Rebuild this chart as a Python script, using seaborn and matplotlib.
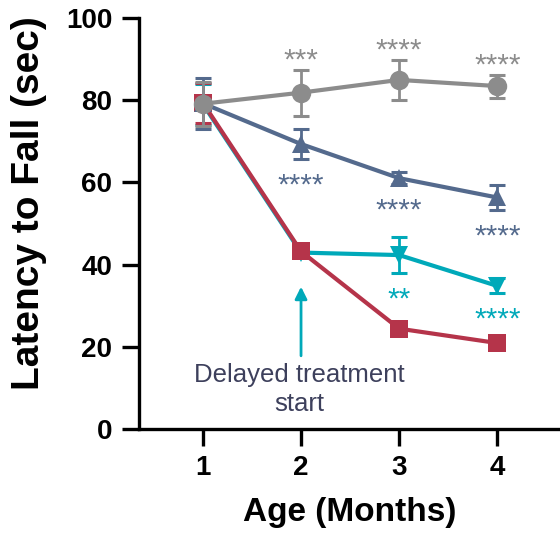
import numpy as np
import pandas as pd
import matplotlib
matplotlib.use("Agg")
import matplotlib.pyplot as plt
import seaborn as sns

months = [1, 2, 3, 4]
groups = ["Treated", "Early", "Delayed", "Untreated"]
colors = {"Treated": "#8c8c8c", "Early": "#546a8d", "Delayed": "#00a9b9", "Untreated": "#b5344a"}
markers = {"Treated": "o", "Early": "^", "Delayed": "v", "Untreated": "s"}

treated_mean = [79.1, 81.8, 84.9, 83.4]
treated_sem = [5.4, 5.6, 4.9, 2.8]
early_mean = [79.2, 69.3, 61.0, 56.3]
early_sem = [6.2, 3.6, 1.5, 3.1]
delayed_mean = [79.0, 42.9, 42.3, 34.8]
delayed_sem = [5.0, 0.8, 4.3, 1.8]
untreated_mean = [79.3, 43.2, 24.4, 20.9]
untreated_sem = [4.8, 0.8, 0.9, 0.8]

stars_treated = ["", "***", "****", "****"]
stars_early = ["", "****", "****", "****"]
stars_delayed = ["", "", "**", "****"]

means = {"Treated": treated_mean, "Early": early_mean,
         "Delayed": delayed_mean, "Untreated": untreated_mean}
sems = {"Treated": treated_sem, "Early": early_sem,
        "Delayed": delayed_sem, "Untreated": untreated_sem}

df = pd.DataFrame([(g, m, v) for g in groups for m, v in zip(months, means[g])],
                  columns=["group", "month", "latency"])

sns.set_style("ticks")
plt.rcParams["font.family"] = ["Liberation Sans", "DejaVu Sans"]
plt.rcParams["text.color"] = "black"
plt.rcParams["axes.labelcolor"] = "black"
plt.rcParams["xtick.color"] = "black"
plt.rcParams["ytick.color"] = "black"
plt.rcParams["axes.edgecolor"] = "black"

fig = plt.figure(figsize=(5.6, 5.4), dpi=100)
ax = fig.add_axes([0.248, 0.2056, 0.752, 0.7614])

# drawing order: bottom to top
order = ["Delayed", "Untreated", "Early", "Treated"]
msize = {"Treated": 14, "Early": 13, "Delayed": 13, "Untreated": 13}
for z, g in enumerate(order):
    sub = df[df.group == g]
    ax.errorbar(sub.month, sub.latency, yerr=sems[g], fmt="none",
                ecolor=colors[g], elinewidth=2.0, capsize=6, capthick=2.2,
                zorder=2 + 2 * z)
    sns.lineplot(data=sub, x="month", y="latency", color=colors[g],
                 marker=markers[g], markersize=msize[g], markeredgewidth=0,
                 linewidth=3.0, ax=ax, zorder=3 + 2 * z, legend=False)

# significance stars, centred a fixed distance beyond the error-bar cap
star_fs = 21.5
star_gap = 4.3


def put_stars(x, y, s, color):
    ax.annotate(s, xy=(x, y), xytext=(0, -0.56 * star_fs), textcoords="offset points",
                ha="center", va="baseline", color=color, fontsize=star_fs)


for i, m in enumerate(months):
    if stars_treated[i]:
        put_stars(m, treated_mean[i] + treated_sem[i] + star_gap, stars_treated[i],
                  colors["Treated"])
    if stars_early[i]:
        put_stars(m, early_mean[i] - early_sem[i] - star_gap, stars_early[i],
                  colors["Early"])
    if stars_delayed[i]:
        put_stars(m, delayed_mean[i] - delayed_sem[i] - star_gap, stars_delayed[i],
                  colors["Delayed"])

ax.annotate("", xy=(2, 34.6), xytext=(2, 17.8),
            arrowprops=dict(arrowstyle="-|>", color=colors["Delayed"], lw=2,
                            mutation_scale=18, shrinkA=0, shrinkB=0))
ax.text(1.985, 9.6, "Delayed treatment\nstart", ha="center", va="center",
        color="#3d405c", fontsize=18.5, linespacing=1.3)

ax.set_xlim(0.347, 4.64)
ax.set_ylim(0, 100)
ax.set_xticks(months)
ax.set_yticks([0, 20, 40, 60, 80, 100])
ax.tick_params(axis="both", width=2.4, length=12, labelsize=20, pad=7)
for lab in ax.get_xticklabels() + ax.get_yticklabels():
    lab.set_fontweight("bold")
for s in ["top", "right"]:
    ax.spines[s].set_visible(False)
for s in ["left", "bottom"]:
    ax.spines[s].set_linewidth(2.4)
ax.set_xlabel("Age (Months)", fontsize=24, fontweight="bold", labelpad=11)
ax.set_ylabel("Latency to Fall (sec)", fontsize=28, fontweight="bold")
ax.yaxis.set_label_coords(-0.2185, 0.55)

fig.savefig("out.png", dpi=100)
